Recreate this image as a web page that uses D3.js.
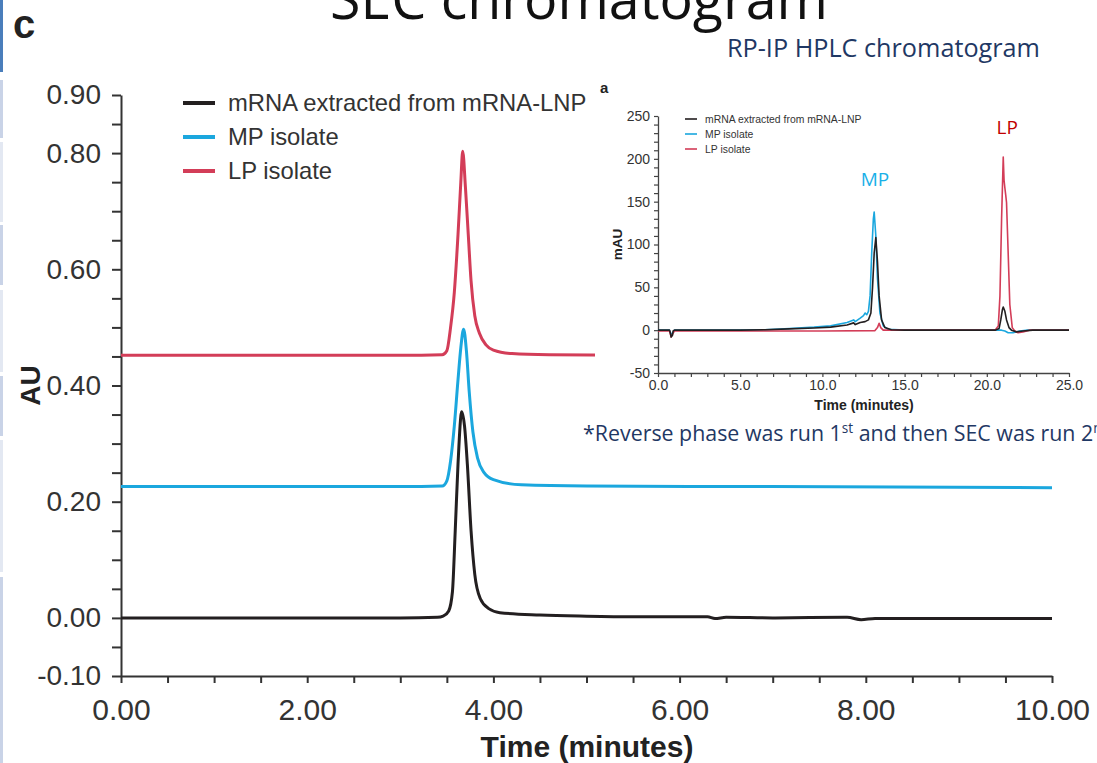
<!DOCTYPE html>
<html>
<head>
<meta charset="utf-8">
<script src="https://cdn.jsdelivr.net/npm/d3@7"></script>
<style>
	body { margin: 0; background: #fff; }
	svg { display: block; }
	text { font-family: "Liberation Sans", Arial, sans-serif; }
	.slide { font-family: "Open Sans", "Noto Sans", sans-serif; }
</style>
</head>
<body>
<svg id="chart" width="1097" height="763"></svg>
<script>
// SEC chromatogram (main panel c), [time in minutes, AU]
const secNames = ['mRNA extracted from mRNA-LNP', 'MP isolate', 'LP isolate']
const secColors = ['#231f20', '#1ba7de', '#d33d58']
const secMrna = [
	[0, 0], [1, 0], [2, 0], [3, 0], [3.40, 0.001], [3.46, 0.003], [3.52, 0.012], [3.56, 0.045],
	[3.59, 0.15], [3.62, 0.265], [3.66, 0.355], [3.69, 0.33], [3.72, 0.265], [3.76, 0.15],
	[3.80, 0.075], [3.86, 0.033], [3.95, 0.016], [4.07, 0.009], [4.5, 0.005], [5.0, 0.003],
	[5.5, 0.002], [6.3, 0.002], [6.38, -0.001], [6.5, 0.001], [7.0, 0], [7.8, 0.001],
	[7.95, -0.003], [8.1, -0.001], [9.0, -0.001], [10.0, -0.001],
]
const secMp = [
	[0, 0.226], [1, 0.226], [2, 0.226], [3, 0.226], [3.45, 0.227], [3.50, 0.236], [3.54, 0.27],
	[3.58, 0.33], [3.62, 0.41], [3.65, 0.465], [3.68, 0.497], [3.71, 0.46], [3.74, 0.39],
	[3.78, 0.32], [3.83, 0.275], [3.90, 0.25], [4.0, 0.238], [4.3, 0.229], [5.0, 0.227],
	[7.0, 0.226], [10.0, 0.224],
]
const secLp = [
	[0, 0.452], [1, 0.452], [2, 0.452], [3, 0.452], [3.45, 0.453], [3.50, 0.46], [3.54, 0.50],
	[3.58, 0.56], [3.62, 0.66], [3.65, 0.75], [3.67, 0.803], [3.70, 0.74], [3.73, 0.66],
	[3.76, 0.58], [3.80, 0.52], [3.85, 0.49], [3.92, 0.47], [4.0, 0.461], [4.2, 0.455],
	[4.6, 0.453], [5.5, 0.452], [10.0, 0.451],
]
const secYLabels = [0.9, 0.8, 0.6, 0.4, 0.2, 0, -0.1]
const secXLabels = [0, 2, 4, 6, 8, 10]

// RP-IP HPLC chromatogram (inset a), [time in minutes, mAU]
const rpMrna = [
	[0, 0], [0.7, 0], [0.75, -3], [0.8, -8], [0.88, -6], [0.92, -1], [1.0, 0], [5, 0], [6.5, 0.5],
	[8, 1.5], [9.5, 2.5], [10.5, 3.5], [11.5, 6], [11.9, 8.5], [12.0, 6.5], [12.3, 9], [12.6, 10],
	[12.8, 12], [12.95, 20], [13.05, 50], [13.15, 90], [13.25, 108], [13.35, 80], [13.45, 40],
	[13.6, 12], [13.8, 3], [14.2, 0.5], [15, 0], [20.5, 0], [20.75, 2], [20.85, 12], [20.95, 24],
	[21.0, 27], [21.1, 22], [21.2, 12], [21.35, 3], [21.5, 0], [21.8, -2], [22.2, -1], [22.8, 0], [25, 0],
]
const rpMp = [
	[0, 0], [0.7, 0], [0.8, -5], [0.9, -3], [1.0, 0], [5, 0], [6.5, 0.5], [8, 2], [9.5, 3.5],
	[10.5, 5], [11.5, 9], [11.9, 12], [12.0, 10], [12.3, 14], [12.5, 17], [12.6, 20], [12.7, 18],
	[12.8, 22], [12.9, 40], [13.0, 90], [13.1, 130], [13.15, 138], [13.25, 110], [13.35, 60],
	[13.5, 20], [13.7, 5], [14.0, 1], [15, 0], [20.5, 0], [20.9, 0], [21.1, -1], [21.3, -3],
	[21.6, -3], [22.0, -1], [22.5, 0], [25, 0],
]
const rpLp = [
	[0, -1], [0.7, -1], [0.8, -8], [0.9, -4], [1.0, -1], [6, -1], [10, -1], [13.2, -0.5],
	[13.35, 3], [13.45, 8], [13.55, 3], [13.7, 0], [15, 0], [20.5, 0], [20.7, 5], [20.8, 40],
	[20.9, 130], [21.0, 202], [21.05, 175], [21.1, 166], [21.15, 158], [21.2, 149], [21.3, 90],
	[21.4, 30], [21.55, 3], [21.7, -1], [21.9, -3], [22.2, -2], [22.6, 0], [25, 0],
]
const rpYLabels = [-50, 0, 50, 100, 150, 200, 250]
const rpXLabels = [0, 5, 10, 15, 20, 25]

const svg = d3.select('#chart')
const fmt2 = (v) => d3.format('.2f')(v).replace('\u2212', '-')
const fmt1 = (v) => d3.format('.1f')(v).replace('\u2212', '-')
const fmt0 = (v) => d3.format('d')(v).replace('\u2212', '-')
const near = (list) => (v) => list.some((l) => Math.abs(l - v) < 1e-6)

// slide side strip
const strip = [
	[0, 72, '#4a7ebb'], [80, 138, '#c9d3e7'], [142, 222, '#e3e8f2'], [225, 285, '#c9d3e7'],
	[290, 372, '#e3e8f2'], [376, 436, '#c9d3e7'], [440, 572, '#e3e8f2'], [577, 763, '#c9d3e7'],
]
svg.append('g').selectAll('rect').data(strip).enter().append('rect')
	.attr('x', 0).attr('width', 3)
	.attr('y', (d) => d[0]).attr('height', (d) => d[1] - d[0])
	.attr('fill', (d) => d[2])

// ---- main SEC panel ----
const mx = d3.scaleLinear().domain([0, 10]).range([121, 1052])
const my = d3.scaleLinear().domain([-0.1, 0.9]).range([676, 95])

const gMain = svg.append('g')
const yIsLabel = near(secYLabels)
const xIsLabel = near(secXLabels)

const yAxis = gMain.append('g').attr('transform', `translate(${mx(0)},0)`)
	.call(d3.axisLeft(my)
		.tickValues(d3.range(-10, 91, 5).map((v) => v / 100))
		.tickSize(9).tickSizeOuter(0).tickPadding(11)
		.tickFormat((v) => yIsLabel(v) ? fmt2(v) : ''))
const xAxis = gMain.append('g').attr('transform', `translate(0,${my(-0.1)})`)
	.call(d3.axisBottom(mx)
		.tickValues(d3.range(0, 21).map((v) => v / 2))
		.tickSize(7).tickSizeOuter(0).tickPadding(16)
		.tickFormat((v) => xIsLabel(v) ? fmt2(v) : ''))
;[yAxis, xAxis].forEach((ax) => {
	ax.select('.domain').attr('stroke', '#333').attr('stroke-width', 2)
	ax.selectAll('.tick line').attr('stroke', '#333').attr('stroke-width', 2)
	ax.selectAll('.tick text').attr('fill', '#333')
		.style('font-family', '"Liberation Sans", Arial, sans-serif')
})
yAxis.selectAll('.tick text').style('font-size', '28px')
xAxis.selectAll('.tick text').style('font-size', '30px')

const mLine = d3.line().x((d) => mx(d[0])).y((d) => my(d[1])).curve(d3.curveMonotoneX)
const secData = [secMrna, secMp, secLp]
gMain.append('g').selectAll('path').data(secData).enter().append('path')
	.attr('d', mLine)
	.attr('fill', 'none')
	.attr('stroke', (_, i) => secColors[i])
	.attr('stroke-width', 3)
	.attr('stroke-linejoin', 'round')

const legend = gMain.append('g').selectAll('g').data(secNames).enter().append('g')
	.attr('transform', (_, i) => `translate(183,${103 + i * 34})`)
legend.append('line').attr('x1', 0).attr('x2', 32)
	.attr('stroke', (_, i) => secColors[i]).attr('stroke-width', 4)
legend.append('text').attr('x', 45).attr('dy', '0.35em')
	.style('font-size', '23.8px').attr('fill', '#333').text((d) => d)

gMain.append('text')
	.attr('transform', `translate(40,${my(0.4)}) rotate(-90)`)
	.attr('text-anchor', 'middle')
	.style('font-size', '28px').style('font-weight', 'bold').attr('fill', '#222')
	.text('AU')
gMain.append('text')
	.attr('x', 587).attr('y', 757).attr('text-anchor', 'middle')
	.style('font-size', '30px').style('font-weight', 'bold').attr('fill', '#222')
	.text('Time (minutes)')
gMain.append('text')
	.attr('x', 13).attr('y', 38)
	.style('font-size', '40px').style('font-weight', 'bold').attr('fill', '#222')
	.text('c')

// ---- inset RP-IP panel ----
const gIn = svg.append('g')
gIn.append('rect').attr('x', 595).attr('y', 64).attr('width', 502).attr('height', 356).attr('fill', '#fff')

const ix = d3.scaleLinear().domain([0, 25]).range([658, 1069])
const iy = d3.scaleLinear().domain([-50, 250]).range([373, 116])
const iyIsLabel = near(rpYLabels)
const ixIsLabel = near(rpXLabels)

const iyAxis = gIn.append('g').attr('transform', `translate(${ix(0)},0)`)
	.call(d3.axisLeft(iy)
		.tickValues(d3.range(-50, 251, 10))
		.tickSize(4).tickSizeOuter(0).tickPadding(4)
		.tickFormat((v) => iyIsLabel(v) ? fmt0(v) : ''))
const ixAxis = gIn.append('g').attr('transform', `translate(0,${iy(-50)})`)
	.call(d3.axisBottom(ix)
		.tickValues(d3.range(0, 26))
		.tickSize(4).tickSizeOuter(0).tickPadding(3)
		.tickFormat((v) => ixIsLabel(v) ? fmt1(v) : ''))
;[iyAxis, ixAxis].forEach((ax) => {
	ax.select('.domain').attr('stroke', '#444').attr('stroke-width', 1.3)
	ax.selectAll('.tick line').attr('stroke', '#444').attr('stroke-width', 1.2)
	ax.selectAll('.tick text').attr('fill', '#333').style('font-size', '14px')
		.style('font-family', '"Liberation Sans", Arial, sans-serif')
})

const iLine = d3.line().x((d) => ix(d[0])).y((d) => iy(d[1]))
const rpData = [rpMp, rpLp, rpMrna]
const rpColors = [secColors[1], secColors[2], secColors[0]]
gIn.append('g').selectAll('path').data(rpData).enter().append('path')
	.attr('d', iLine)
	.attr('fill', 'none')
	.attr('stroke', (_, i) => rpColors[i])
	.attr('stroke-width', 1.6)
	.attr('stroke-linejoin', 'round')

const iLegend = gIn.append('g').selectAll('g').data(secNames).enter().append('g')
	.attr('transform', (_, i) => `translate(685,${119 + i * 15})`)
iLegend.append('line').attr('x1', 0).attr('x2', 12)
	.attr('stroke', (_, i) => secColors[i]).attr('stroke-width', 1.6)
iLegend.append('text').attr('x', 20).attr('dy', '0.35em')
	.style('font-size', '10.4px').attr('fill', '#333').text((d) => d)

gIn.append('text')
	.attr('transform', `translate(622,${iy(100)}) rotate(-90)`)
	.attr('text-anchor', 'middle')
	.style('font-size', '13.5px').style('font-weight', 'bold').attr('fill', '#222')
	.text('mAU')
gIn.append('text')
	.attr('x', 864).attr('y', 410).attr('text-anchor', 'middle')
	.style('font-size', '14px').style('font-weight', 'bold').attr('fill', '#222')
	.text('Time (minutes)')
gIn.append('text')
	.attr('x', 600).attr('y', 93)
	.style('font-size', '15px').style('font-weight', 'bold').attr('fill', '#222')
	.text('a')
gIn.append('text').attr('class', 'slide')
	.attr('x', ix(13.2)).attr('y', 186).attr('text-anchor', 'middle')
	.style('font-size', '19px').attr('fill', '#1ab0e8')
	.text('MP')
gIn.append('text').attr('class', 'slide')
	.attr('x', ix(21.0) + 4).attr('y', 134).attr('text-anchor', 'middle')
	.style('font-size', '19px').attr('fill', '#c00000')
	.text('LP')

// ---- slide texts (Calibri-like widths) ----
const fitText = (sel, x, y, width) => {
	const w = sel.node().getComputedTextLength()
	sel.attr('transform', `translate(${x},${y}) scale(${width / w},1)`)
}
const title = svg.append('text').attr('class', 'slide')
	.style('font-size', '56px').attr('fill', '#111').text('SEC chromatogram')
fitText(title, 330, 19, 498)
const sub = svg.append('text').attr('class', 'slide')
	.style('font-size', '25px').attr('fill', '#1f3864').text('RP-IP HPLC chromatogram')
fitText(sub, 727, 57, 313)
const note = svg.append('text').attr('class', 'slide')
	.style('font-size', '22px').attr('fill', '#1f3864')
note.append('tspan').text('*Reverse phase was run 1')
note.append('tspan').attr('dy', -8).style('font-size', '14px').text('st')
note.append('tspan').attr('dy', 8).text(' and then SEC was run 2')
note.append('tspan').attr('dy', -8).style('font-size', '14px').text('nd')
fitText(note, 583, 441, 527)
</script>
</body>
</html>
